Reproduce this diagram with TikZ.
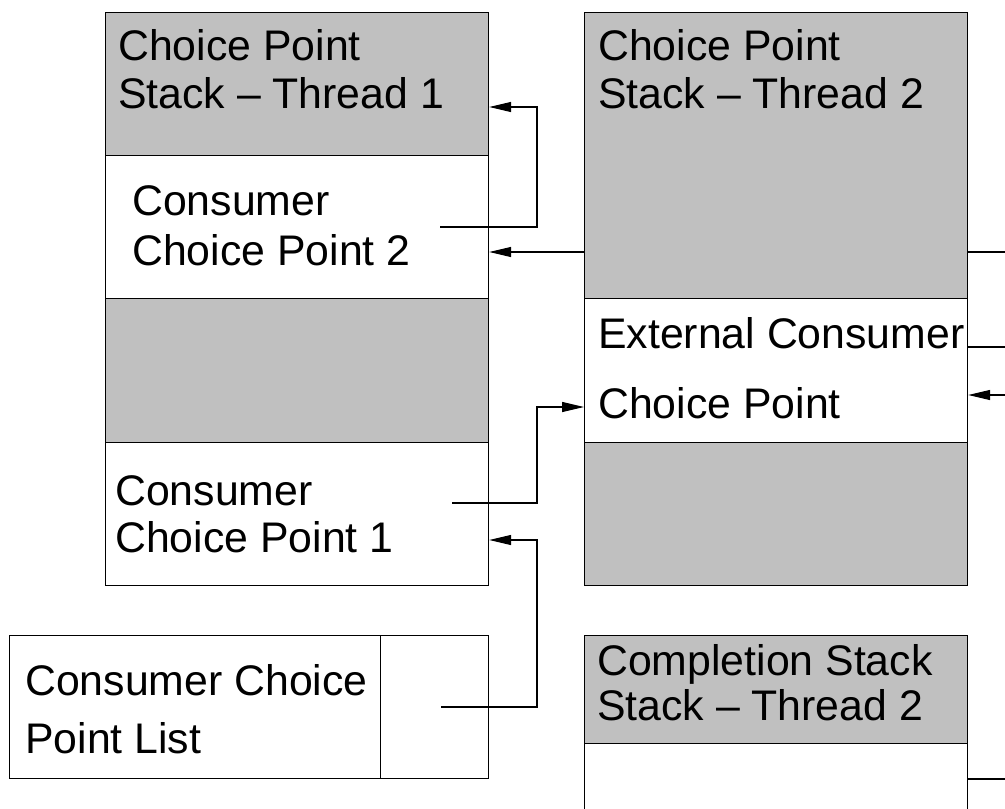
\documentclass[tikz,border=0pt]{standalone}
\usepackage{fontspec}
\setmainfont{Liberation Sans}
\usetikzlibrary{arrows.meta}
\definecolor{cpgray}{RGB}{192,192,192}
\begin{document}
\begin{tikzpicture}[x=1pt,y=-1pt,
  band/.style={draw=black,line width=1.2pt,anchor=north west,inner sep=0pt,minimum width=383pt},
  gband/.style={band,fill=cpgray},
  wband/.style={band,fill=white},
  lbl/.style={anchor=base west,inner sep=0pt,font=\fontsize{42.8}{48}\selectfont},
  conn/.style={line width=1.2pt},
  arr/.style={conn,-{Triangle[length=22pt,width=10pt]}}]
\useasboundingbox (0,0) rectangle (1005,809);
\clip (0,0) rectangle (1005,809);
% left stack (thread 1)
\node[gband,minimum height=143pt] (L1) at (105,12) {};
\node[wband,minimum height=143pt] (L2) at (105,155) {};
\node[gband,minimum height=144pt] (L3) at (105,298) {};
\node[wband,minimum height=143pt] (L4) at (105,442) {};
\node[lbl] (t11) at (118,60) {Choice Point};
\node[lbl] (t12) at (118,108) {Stack -- Thread 1};
\node[lbl] (t21) at (132,215) {Consumer};
\node[lbl] (t22) at (132,265) {Choice Point 2};
\node[lbl] (t41) at (115,505) {Consumer};
\node[lbl] (t42) at (115,552) {Choice Point 1};
% consumer choice point list
\node[wband,minimum width=371pt,minimum height=143pt] (LBa) at (9,635) {};
\node[wband,minimum width=108pt,minimum height=143pt] (LBb) at (380,635) {};
\node[lbl] (tl1) at (25,695) {Consumer Choice};
\node[lbl] (tl2) at (25,753) {Point List};
% connectors
\coordinate (c2src) at (440,227);
\coordinate (c1src) at (452,503);
\coordinate (lsrc) at (441,707);
\coordinate (e252) at (1010,252);
\coordinate (e347) at (1010,347);
\coordinate (e395) at (1010,395);
\coordinate (e779) at (1010,779);
\draw[arr] (c2src) -- ++(97,0) |- ([yshift=-95pt]L1.north east);
\draw[arr] (e252) -- (L2.east |- e252);
\draw[arr] (lsrc) -- ++(96,0) |- ([yshift=-98pt]L4.north east);
% right stack (thread 2)
\node[gband,minimum height=286pt] (R1) at (584,12) {};
\node[wband,minimum height=144pt] (R2) at (584,298) {};
\node[gband,minimum height=143pt] (R3) at (584,442) {};
\node[lbl] (r11) at (598,60) {Choice Point};
\node[lbl] (r12) at (598,108) {Stack -- Thread 2};
\node[lbl] (r21) at (598,348) {External Consumer};
\node[lbl] (r22) at (598,418) {Choice Point};
\draw[arr] (c1src) -- ++(85,0) |- ([yshift=-109pt]R2.north west);
\draw[conn] (R2.east |- e347) -- (e347);
\draw[arr] (e395) -- (R2.east |- e395);
% completion stack
\node[gband,minimum height=108pt] (C1) at (584,635) {};
\node[wband,minimum height=100pt] (C2) at (584,743) {};
\node[lbl] (c11) at (597,675) {Completion Stack};
\node[lbl] (c12) at (597,720) {Stack -- Thread 2};
\draw[conn] (C2.east |- e779) -- (e779);
\end{tikzpicture}
\end{document}
